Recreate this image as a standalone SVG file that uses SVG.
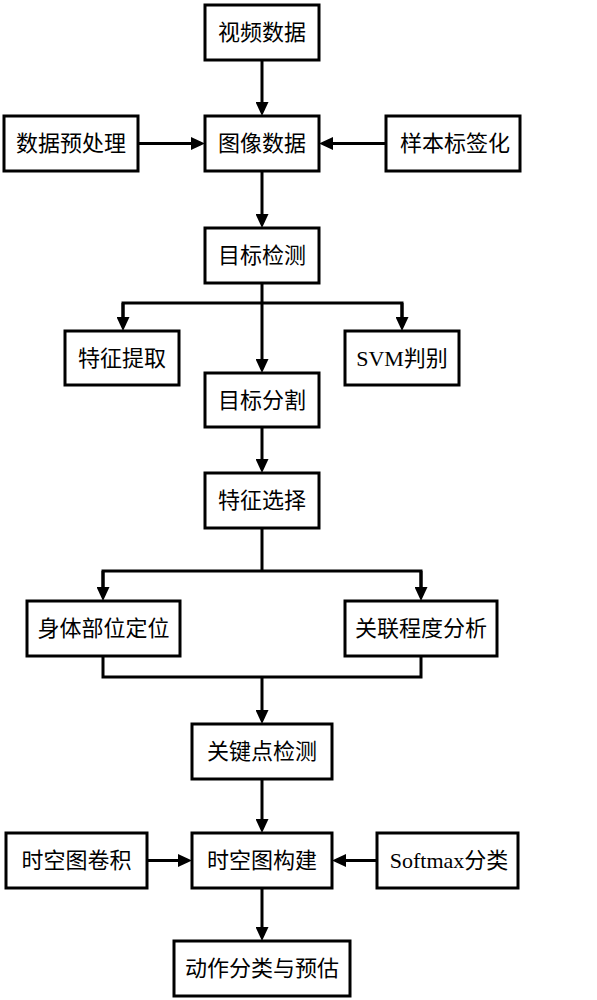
<svg xmlns="http://www.w3.org/2000/svg" width="597" height="1000" viewBox="0 0 597 1000">
<style>
.box rect{fill:#fff;stroke:#000;stroke-width:3}
.box text{font-family:"Liberation Serif","Noto Sans CJK SC",serif;font-size:22px;fill:#000;text-anchor:middle}
.conn line,.conn polyline{stroke:#000;stroke-width:3;fill:none}
</style>
<defs>
<marker id="ah" markerUnits="userSpaceOnUse" markerWidth="14" markerHeight="13" viewBox="0 0 14 13" refX="7" refY="6.5" orient="auto">
<path d="M0,0 L14,6.5 L0,13 z" fill="#000"/>
</marker>
</defs>
<rect width="597" height="1000" fill="#fff"/>
<g id="connectors" class="conn">
<line x1="262" y1="60" x2="262" y2="109" marker-end="url(#ah)"/>
<line x1="138" y1="143.5" x2="198" y2="143.5" marker-end="url(#ah)"/>
<line x1="386" y1="143.5" x2="326" y2="143.5" marker-end="url(#ah)"/>
<line x1="262" y1="171" x2="262" y2="221" marker-end="url(#ah)"/>
<line x1="262" y1="283" x2="262" y2="366" marker-end="url(#ah)"/>
<polyline points="123,324 123,303 402,303 402,324" />
<line x1="123" y1="303" x2="123" y2="324" marker-end="url(#ah)"/>
<line x1="402" y1="303" x2="402" y2="324" marker-end="url(#ah)"/>
<line x1="262" y1="427" x2="262" y2="466" marker-end="url(#ah)"/>
<line x1="262" y1="528" x2="262" y2="571"/>
<polyline points="103,594 103,571 421,571 421,594"/>
<line x1="103" y1="571" x2="103" y2="594" marker-end="url(#ah)"/>
<line x1="421" y1="571" x2="421" y2="594" marker-end="url(#ah)"/>
<polyline points="103,656 103,677 421,677 421,656"/>
<line x1="262" y1="677" x2="262" y2="717" marker-end="url(#ah)"/>
<line x1="262" y1="779" x2="262" y2="826" marker-end="url(#ah)"/>
<line x1="147" y1="860.5" x2="185" y2="860.5" marker-end="url(#ah)"/>
<line x1="377" y1="860.5" x2="339" y2="860.5" marker-end="url(#ah)"/>
<line x1="262" y1="888" x2="262" y2="934" marker-end="url(#ah)"/>
</g>
<g id="n1" class="box"><rect x="205" y="5" width="114" height="55"/><text x="262" y="40">视频数据</text></g>
<g id="n2" class="box"><rect x="205" y="116" width="114" height="55"/><text x="262" y="151">图像数据</text></g>
<g id="n3" class="box"><rect x="4" y="116" width="134" height="55"/><text x="71" y="151">数据预处理</text></g>
<g id="n4" class="box"><rect x="386" y="116" width="134" height="55"/><text x="455" y="151">样本标签化</text></g>
<g id="n5" class="box"><rect x="205" y="228" width="114" height="55"/><text x="262" y="263">目标检测</text></g>
<g id="n6" class="box"><rect x="65" y="331" width="114" height="54"/><text x="122" y="366">特征提取</text></g>
<g id="n7" class="box"><rect x="345" y="331" width="114" height="54"/><text x="402" y="366">SVM判别</text></g>
<g id="n8" class="box"><rect x="205" y="373" width="114" height="54"/><text x="262" y="408">目标分割</text></g>
<g id="n9" class="box"><rect x="205" y="473" width="114" height="55"/><text x="262" y="508">特征选择</text></g>
<g id="n10" class="box"><rect x="27" y="601" width="153" height="55"/><text x="103.5" y="636">身体部位定位</text></g>
<g id="n11" class="box"><rect x="345" y="601" width="152" height="55"/><text x="421" y="636">关联程度分析</text></g>
<g id="n12" class="box"><rect x="192" y="724" width="140" height="55"/><text x="262" y="759">关键点检测</text></g>
<g id="n13" class="box"><rect x="192" y="833" width="140" height="55"/><text x="262" y="868">时空图构建</text></g>
<g id="n14" class="box"><rect x="6" y="833" width="141" height="55"/><text x="76.5" y="868">时空图卷积</text></g>
<g id="n15" class="box"><rect x="377" y="833" width="141" height="55"/><text x="449" y="868">Softmax分类</text></g>
<g id="n16" class="box"><rect x="174" y="941" width="176" height="55"/><text x="262" y="976">动作分类与预估</text></g>
</svg>
